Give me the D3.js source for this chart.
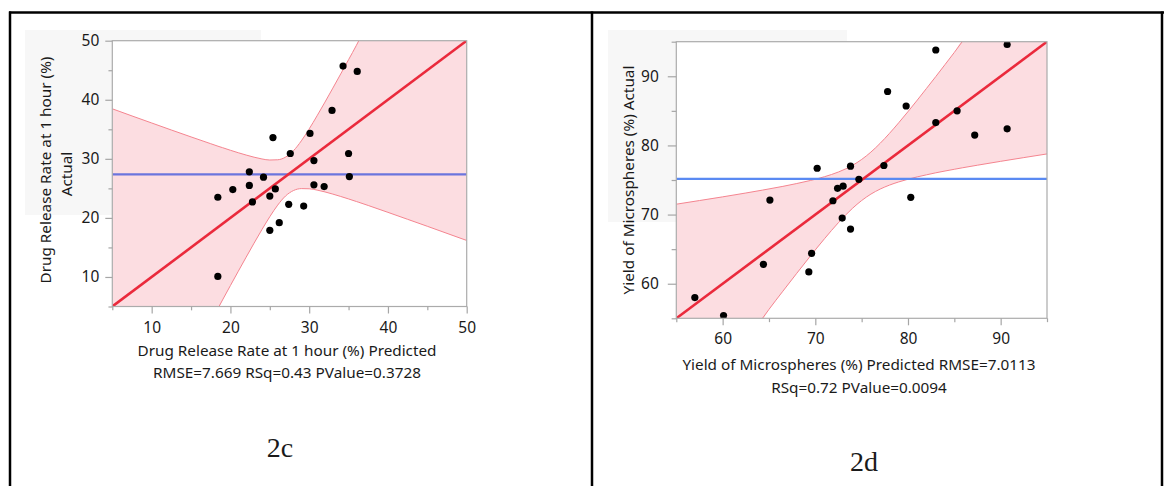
<!DOCTYPE html>
<html><head><meta charset="utf-8">
<script src="https://cdn.jsdelivr.net/npm/d3@7/dist/d3.min.js"></script>
<style>
body{margin:0;background:#fff}
svg text{font-family:"Noto Sans","Open Sans",sans-serif;fill:#1a1a1a}
</style>
</head><body>
<svg id="chart" width="1164" height="486"></svg>
<script>
// ---------- Panel 2c : Drug Release Rate at 1 hour (%) ----------
const leftPredicted = [18.4, 18.4, 20.3, 22.4, 22.4, 22.8, 24.2, 25.0, 25.0, 25.4, 25.7, 26.2,
                       27.4, 27.6, 29.3, 30.1, 30.6, 30.6, 31.9, 32.9, 35.0, 35.1, 34.3, 36.1];
const leftActual    = [23.5, 10.1, 24.8, 27.8, 25.5, 22.7, 26.9, 23.7, 17.9, 33.6, 24.9, 19.2,
                       22.3, 30.9, 22.0, 34.3, 29.7, 25.6, 25.3, 38.2, 30.9, 27.0, 45.7, 44.8];
const leftMean = 27.38;
const leftBandX     = [5, 7.5, 10, 12.5, 15, 17.5, 18.55, 19, 20, 21, 22, 23, 24, 25, 26, 27, 28, 29, 30,
                       31, 32, 33, 34, 35, 36, 36.3, 37.5, 40, 42.5, 45, 47.5, 50];
const leftBandUpper = [38.47, 37.26, 36.07, 34.88, 33.71, 32.56, 32.08, 31.89, 31.45, 31.03, 30.64, 30.28,
                       29.98, 29.8, 29.84, 30.29, 31.37, 33.04, 35.07, 37.29, 39.6, 41.97, 44.37, 46.79,
                       49.23, 50, null, null, null, null, null, null];
const leftBandLower = [null, null, null, null, null, null, 5.0, 6.11, 8.55, 10.97, 13.36, 15.72, 18.02,
                       20.2, 22.16, 23.71, 24.63, 24.96, 24.93, 24.71, 24.4, 24.03, 23.63, 23.21, 22.77,
                       22.64, 22.1, 20.94, 19.76, 18.58, 17.38, 16.18];
const leftMajorTicks = [10, 20, 30, 40, 50];
const leftMinorTicks = [5, 15, 25, 35, 45];

// ---------- Panel 2d : Yield of Microspheres (%) ----------
const rightPredicted = [57.0, 60.1, 64.4, 65.1, 69.3, 69.6, 70.2, 71.9, 72.4, 73.0, 72.9, 73.8,
                        73.8, 74.7, 77.4, 79.8, 80.3, 83.0, 85.3, 87.2, 90.7, 77.8, 83.0, 90.7];
const rightActual    = [58.0, 55.4, 62.8, 72.1, 61.7, 64.4, 76.7, 72.0, 73.8, 74.1, 69.5, 77.0,
                        67.9, 75.1, 77.1, 85.7, 72.5, 83.3, 85.0, 81.5, 82.4, 87.8, 93.8, 94.6];
const rightMean = 75.17;
const rightBandX     = [55, 57.5, 60, 62.5, 64.3, 65, 66.5, 68, 69.5, 71, 72.5, 74, 75, 76, 77, 78, 79,
                        80, 81, 82, 83, 84, 85, 85.85, 87.5, 90, 92.5, 95];
const rightBandUpper = [71.5, 72.03, 72.56, 73.12, 73.54, 73.71, 74.08, 74.49, 74.94, 75.48, 76.16, 77.11,
                        77.97, 79.04, 80.31, 81.74, 83.28, 84.89, 86.55, 88.25, 89.96, 91.7, 93.45, 95,
                        null, null, null, null];
const rightBandLower = [null, null, null, null, 55.0, 56.29, 58.92, 61.51, 64.06, 66.52, 68.84, 70.89,
                        72.03, 72.96, 73.69, 74.26, 74.72, 75.11, 75.45, 75.75, 76.04, 76.3, 76.55, 76.76,
                        77.14, 77.7, 78.24, 78.77];
const rightMajorTicks = [60, 70, 80, 90];
const rightMinorTicks = [55, 65, 75, 85, 95];

const svg = d3.select("#chart");

// outer table frame
const frame = svg.append("g").attr("stroke", "#000").attr("stroke-width", 2.5);
frame.append("line").attr("x1", 9).attr("x2", 1164).attr("y1", 12.5).attr("y2", 12.5);
frame.append("line").attr("x1", 10).attr("x2", 10).attr("y1", 11.5).attr("y2", 486);
frame.append("line").attr("x1", 592).attr("x2", 592).attr("y1", 11.5).attr("y2", 486);
frame.append("line").attr("x1", 1162).attr("x2", 1162).attr("y1", 11.5).attr("y2", 486);

function panel(cfg) {
  const g = svg.append("g");
  // JMP grey label box
  g.append("rect").attr("x", cfg.grey[0]).attr("y", cfg.grey[1])
    .attr("width", cfg.grey[2]).attr("height", cfg.grey[3]).attr("fill", "#f7f7f7");

  const x = d3.scaleLinear().domain(cfg.domain).range(cfg.xRange);
  const y = d3.scaleLinear().domain(cfg.domain).range(cfg.yRange);
  const [x0, x1] = cfg.xRange, [yb, yt] = cfg.yRange;

  g.append("rect").attr("x", x0).attr("y", yt).attr("width", x1 - x0).attr("height", yb - yt)
    .attr("fill", "#fff");

  const clipId = "clip" + cfg.id;
  svg.append("clipPath").attr("id", clipId).append("rect")
    .attr("x", x0).attr("y", yt).attr("width", x1 - x0).attr("height", yb - yt);
  const plot = g.append("g").attr("clip-path", `url(#${clipId})`);

  const band = cfg.bandX.map((v, i) => ({x: v, up: cfg.bandUpper[i], lo: cfg.bandLower[i]}));
  plot.append("path").datum(band)
    .attr("fill", "#fcdde1")
    .attr("d", d3.area().x(d => x(d.x))
      .y0(d => y(d.lo == null ? cfg.domain[0] : d.lo))
      .y1(d => y(d.up == null ? cfg.domain[1] : d.up))
      .curve(d3.curveMonotoneX));
  plot.append("path").datum(band.filter(d => d.up != null))
    .attr("fill", "none").attr("stroke", "#f4848f").attr("stroke-width", 1)
    .attr("d", d3.line().x(d => x(d.x)).y(d => y(d.up)).curve(d3.curveMonotoneX));
  plot.append("path").datum(band.filter(d => d.lo != null))
    .attr("fill", "none").attr("stroke", "#f4848f").attr("stroke-width", 1)
    .attr("d", d3.line().x(d => x(d.x)).y(d => y(d.lo)).curve(d3.curveMonotoneX));

  // mean line
  plot.append("line").attr("x1", x0).attr("x2", x1)
    .attr("y1", y(cfg.mean)).attr("y2", y(cfg.mean))
    .attr("stroke", cfg.meanColor).attr("stroke-width", 2.2);
  // fit line (actual = predicted)
  plot.append("line").attr("x1", x(cfg.domain[0])).attr("y1", y(cfg.domain[0]))
    .attr("x2", x(cfg.domain[1])).attr("y2", y(cfg.domain[1]))
    .attr("stroke", "#ea2a3c").attr("stroke-width", 2.6);

  // points
  plot.selectAll("circle").data(cfg.pred).join("circle")
    .attr("cx", d => x(d)).attr("cy", (d, i) => y(cfg.act[i])).attr("r", 3.6).attr("fill", "#000");

  // frame
  g.append("rect").attr("x", x0).attr("y", yt).attr("width", x1 - x0).attr("height", yb - yt)
    .attr("fill", "none").attr("stroke", "#ababab").attr("stroke-width", 1.2);

  const styleAxis = sel => {
    sel.select(".domain").remove();
    sel.selectAll(".tick line").attr("stroke", "#a6a6a6").attr("stroke-width", 1.2);
    sel.selectAll("text").attr("font-size", cfg.tickFont).attr("fill", "#1a1a1a")
      .attr("font-family", '"Noto Sans","Open Sans",sans-serif');
  };
  // x axis
  const gx = g.append("g").attr("transform", `translate(0,${yb})`);
  gx.append("g").call(d3.axisBottom(x).tickValues(cfg.major).tickSize(cfg.xTick).tickPadding(cfg.xPad)
    .tickFormat(d3.format("d"))).call(styleAxis);
  gx.append("g").call(d3.axisBottom(x).tickValues(cfg.minor).tickSize(cfg.xTick * 0.55)
    .tickFormat("")).call(styleAxis);
  // y axis
  const gy = g.append("g").attr("transform", `translate(${x0},0)`);
  gy.append("g").call(d3.axisLeft(y).tickValues(cfg.major).tickSize(cfg.yTick).tickPadding(cfg.yPad)
    .tickFormat(d3.format("d"))).call(styleAxis);
  gy.append("g").call(d3.axisLeft(y).tickValues(cfg.minor).tickSize(cfg.yTick * 0.55)
    .tickFormat("")).call(styleAxis);

  // axis titles
  cfg.xTitle.forEach(t => {
    g.append("text").attr("x", t[1]).attr("y", t[2]).attr("text-anchor", "middle")
      .attr("dominant-baseline", "central").attr("font-size", cfg.titleFont).text(t[0]);
  });
  cfg.yTitle.forEach(t => {
    g.append("text").attr("transform", `translate(${t[1]},${t[2]}) rotate(-90)`)
      .attr("text-anchor", "middle").attr("dominant-baseline", "central")
      .attr("font-size", cfg.titleFont).text(t[0]);
  });
  // caption
  g.append("text").attr("x", cfg.caption[1]).attr("y", cfg.caption[2]).attr("text-anchor", "middle")
    .attr("font-size", 28)
    .style("font-family", '"Liberation Serif","Times New Roman",serif').text(cfg.caption[0]);
}

panel({
  id: "L", domain: [5, 50], xRange: [112.3, 466.7], yRange: [306.5, 40.7],
  grey: [25, 30, 236, 185],
  pred: leftPredicted, act: leftActual, mean: leftMean, meanColor: "#6b74dd",
  bandX: leftBandX, bandUpper: leftBandUpper, bandLower: leftBandLower,
  major: leftMajorTicks, minor: leftMinorTicks,
  xTick: 7, xPad: 8, yTick: 7, yPad: 6,
  tickFont: 15.5, titleFont: 15.3,
  xTitle: [["Drug Release Rate at 1 hour (%) Predicted", 287, 350],
           ["RMSE=7.669 RSq=0.43 PValue=0.3728", 287, 372]],
  yTitle: [["Drug Release Rate at 1 hour (%)", 45, 170], ["Actual", 66, 174]],
  caption: ["2c", 280, 457]
});

panel({
  id: "R", domain: [55, 95], xRange: [676.3, 1047], yRange: [318.3, 41.7],
  grey: [608, 30, 239, 192],
  pred: rightPredicted, act: rightActual, mean: rightMean, meanColor: "#5a8af2",
  bandX: rightBandX, bandUpper: rightBandUpper, bandLower: rightBandLower,
  major: rightMajorTicks, minor: rightMinorTicks,
  xTick: 7, xPad: 8, yTick: 8.5, yPad: 9,
  tickFont: 15.5, titleFont: 15.3,
  xTitle: [["Yield of Microspheres (%) Predicted RMSE=7.0113", 859, 363.5],
           ["RSq=0.72 PValue=0.0094", 859, 386.5]],
  yTitle: [["Yield of Microspheres (%) Actual", 628, 180]],
  caption: ["2d", 864, 471]
});
</script>
</body></html>
